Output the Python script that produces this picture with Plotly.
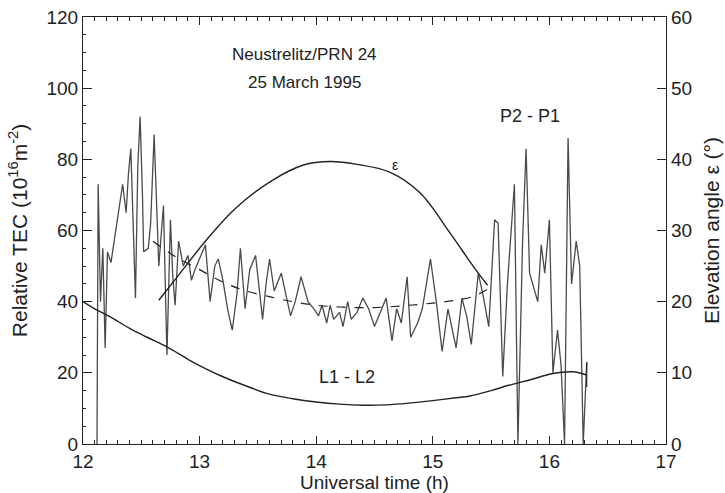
import plotly.graph_objects as go

# P2 - P1 (relative TEC, 1e16 m^-2)
p21_t = [12.12, 12.13, 12.15, 12.17, 12.19, 12.21, 12.24, 12.27, 12.31, 12.34, 12.37, 12.39, 12.41, 12.43,
         12.45, 12.47, 12.49, 12.51, 12.52, 12.56, 12.58, 12.61, 12.63, 12.65, 12.69, 12.72, 12.75, 12.77,
         12.79, 12.82, 12.86, 12.90, 12.93, 12.96, 13.05, 13.09, 13.13, 13.16, 13.20, 13.24, 13.28, 13.32,
         13.35, 13.39, 13.43, 13.48, 13.51, 13.54, 13.57, 13.60, 13.64, 13.70, 13.74, 13.78, 13.82, 13.87,
         13.93, 13.98, 14.02, 14.05, 14.09, 14.12, 14.15, 14.20, 14.23, 14.27, 14.30, 14.35, 14.40, 14.45,
         14.50, 14.55, 14.60, 14.65, 14.69, 14.73, 14.78, 14.81, 14.87, 14.91, 14.98, 15.03, 15.08, 15.13,
         15.20, 15.25, 15.29, 15.33, 15.39, 15.43, 15.48, 15.53, 15.56, 15.60, 15.64, 15.70, 15.73, 15.77,
         15.80, 15.83, 15.90, 15.93, 15.96, 16.00, 16.03, 16.07, 16.10, 16.13, 16.16, 16.19, 16.23, 16.26,
         16.29, 16.32]
p21_v = [0, 73, 40, 55, 27, 54, 51, 58, 66, 73, 65, 76, 83, 63,
         41, 78, 92, 70, 54, 55, 62, 87, 70, 50, 67, 25, 63, 47,
         39, 57, 50, 53, 46, 49, 56, 40, 50, 52, 46, 38, 32, 42,
         55, 38, 49, 53, 44, 35, 45, 52, 43, 48, 42, 36, 40, 47,
         40, 38, 36, 39, 34, 39, 35, 37, 33, 40, 35, 37, 41, 38,
         33, 37, 41, 29, 38, 34, 47, 30, 34, 38, 52, 40, 26, 38,
         27, 41, 36, 28, 48, 42, 33, 63, 62, 19, 45, 73, 0, 57,
         83, 48, 40, 56, 48, 63, 20, 32, 22, 0, 86, 45, 57, 50,
         0, 23]

# Smoothed P2 - P1 (dashed)
fit_t = [12.60, 12.80, 13.00, 13.20, 13.40, 13.60, 13.80, 14.00, 14.20, 14.40, 14.60, 14.80, 15.00, 15.20, 15.35, 15.47]
fit_v = [57, 52.5, 49, 45.5, 43, 41.4, 40, 39, 38.5, 38.3, 38.5, 39, 39.6, 40.4, 41.5, 43.5]

# L1 - L2
l12_t = [12.00, 12.10, 12.23, 12.40, 12.55, 12.72, 12.90, 13.05, 13.20, 13.40, 13.60, 13.80, 14.00, 14.20,
         14.40, 14.60, 14.80, 15.00, 15.20, 15.32, 15.50, 15.65, 15.83, 16.03, 16.20, 16.32]
l12_v = [40, 38, 35.8, 32.5, 30, 27.3, 23.8, 21.2, 18.9, 16.3, 14, 12.7, 11.8, 11.2,
         10.9, 11, 11.5, 12.2, 13, 13.5, 15, 16.5, 18, 19.8, 20.3, 19.4]
l12_end_t = [16.32, 16.32]
l12_end_v = [16, 23]

# Elevation angle (deg, right axis)
elev_t = [12.65, 12.80, 13.06, 13.30, 13.60, 13.89, 14.12, 14.35, 14.63, 14.89, 15.15, 15.35, 15.47]
elev_v = [20.2, 23.3, 28.7, 33, 36.8, 39.2, 39.7, 39.3, 38.2, 35.3, 29.6, 24.9, 22.3]

x_ticks = [12, 13, 14, 15, 16, 17]
left_ticks = [0, 20, 40, 60, 80, 100, 120]
right_ticks = [0, 10, 20, 30, 40, 50, 60]

FONT = "Liberation Sans, Arial, Helvetica, sans-serif"
ink = "#222222"

fig = go.Figure()
fig.add_trace(go.Scatter(x=p21_t, y=p21_v, mode="lines",
                         line=dict(color="#4a4a4a", width=1.3), showlegend=False))
fig.add_trace(go.Scatter(x=fit_t, y=fit_v, mode="lines",
                         line=dict(color=ink, width=1.2, dash="dash", shape="spline"), showlegend=False))
fig.add_trace(go.Scatter(x=l12_t, y=l12_v, mode="lines",
                         line=dict(color=ink, width=1.4, shape="spline"), showlegend=False))
fig.add_trace(go.Scatter(x=l12_end_t, y=l12_end_v, mode="lines",
                         line=dict(color=ink, width=1.2), showlegend=False))
fig.add_trace(go.Scatter(x=elev_t, y=elev_v, mode="lines", yaxis="y2",
                         line=dict(color=ink, width=1.4, shape="spline"), showlegend=False))

ann_font = dict(family=FONT, size=17, color=ink)
fig.add_annotation(x=13.9, y=109.4, text="Neustrelitz/PRN 24", showarrow=False, font=ann_font)
fig.add_annotation(x=13.9, y=101.6, text="25 March 1995", showarrow=False, font=ann_font)
fig.add_annotation(x=15.83, y=92.3, text="P2 - P1", showarrow=False, font=dict(family=FONT, size=18, color=ink))
fig.add_annotation(x=14.68, y=78.3, text="ε", showarrow=False, font=dict(family=FONT, size=14, color=ink))
fig.add_annotation(x=14.26, y=18.8, text="L1 - L2", showarrow=False, font=dict(family=FONT, size=18, color=ink))

axis_common = dict(showgrid=False, zeroline=False, showline=True, linecolor=ink, linewidth=1.2,
                   ticks="inside", tickcolor=ink, tickwidth=1, automargin=False,
                   tickfont=dict(family=FONT, size=19, color=ink))

fig.update_layout(
    width=725, height=493,
    margin=dict(l=83, r=59, t=17, b=49, autoexpand=False),
    paper_bgcolor="white", plot_bgcolor="white",
    xaxis=dict(range=[12, 17], tickvals=x_ticks, ticklen=8, mirror="ticks",
               minor=dict(dtick=0.1, ticklen=4, ticks="inside", tickcolor=ink),
               title=dict(text="Universal time (h)", standoff=7,
                          font=dict(family=FONT, size=19, color=ink)), **axis_common),
    yaxis=dict(range=[0, 120], tickvals=left_ticks, ticklen=9,
               minor=dict(dtick=5, ticklen=3, ticks="inside", tickcolor=ink),
               title=dict(text="Relative TEC (10<sup>16</sup>m<sup>-2</sup>)", standoff=13,
                          font=dict(family=FONT, size=21, color=ink)), **axis_common),
    yaxis2=dict(range=[0, 60], tickvals=right_ticks, ticklen=9, overlaying="y", side="right",
                title=dict(text="Elevation angle ε (°)", standoff=13,
                           font=dict(family=FONT, size=21, color=ink)), **axis_common),
)

fig.write_html("out.html")
